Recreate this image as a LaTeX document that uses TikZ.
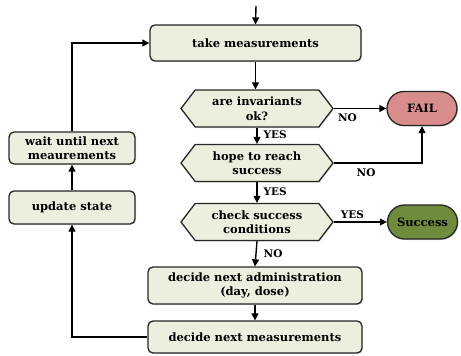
\documentclass[tikz,border=0pt]{standalone}
\usepackage{fontspec}
\setmainfont{DejaVu Serif}
\usetikzlibrary{shapes.symbols,shapes.misc,arrows.meta,shadows}
\definecolor{boxfill}{RGB}{236,238,222}
\definecolor{failfill}{RGB}{216,140,140}
\definecolor{okfill}{RGB}{110,140,60}
\begin{document}
\begin{tikzpicture}[x=1pt,y=-1pt,
  base/.style={draw=black!85, line width=1.3pt, align=center, inner sep=2pt,
    font=\bfseries\fontsize{11.5}{14.5}\selectfont,
    drop shadow={opacity=0.25, shadow xshift=1pt, shadow yshift=-1pt}},
  stepbox/.style={base, rectangle, rounded corners=5pt, fill=boxfill},
  test/.style={base, signal, signal to=west and east, signal pointer angle=105,
    fill=boxfill, minimum width=152pt, minimum height=37pt},
  term/.style={base, rounded rectangle, minimum width=74pt, minimum height=34pt},
  arr/.style={-{Triangle[length=7pt,width=7pt]}, line width=1.4pt},
  lbl/.style={font=\bfseries\fontsize{10.5}{12}\selectfont, inner sep=1pt}
]
\useasboundingbox (0,0) rectangle (461,356);

% main column
\node[stepbox, minimum width=211pt, minimum height=36pt] (take) at (255.5,43) {take measurements};
\node[test] (inv) at (257,108.5) {are invariants\\ok?};
\node[test] (hope) at (257,163) {hope to reach\\success};
\node[test] (check) at (257,222) {check success\\conditions};
\node[stepbox, minimum width=214pt, minimum height=37pt] (admin) at (255,285.5) {decide next administration\\(day, dose)};
\node[stepbox, minimum width=214pt, minimum height=32pt] (meas) at (255,337) {decide next measurements};

% outcomes
\node[term, fill=failfill] (fail) at (422,108.5) {FAIL};
\node[term, fill=okfill] (succ) at (422.5,222) {Success};

% feedback column
\node[stepbox, minimum width=126pt, minimum height=32pt] (wait) at (72,148) {wait until next\\meaurements};
\node[stepbox, minimum width=126pt, minimum height=33pt] (upd) at (72,207.5) {update state};

\coordinate (entry) at (256,6);

\draw[arr] (entry) -- (take.north);
\draw[arr] (take.south) -- (take.south |- inv.north);
\draw[arr] (inv.south) -- node[lbl, anchor=west, xshift=5pt, pos=0.45] {YES} (hope.north);
\draw[arr] (hope.south) -- node[lbl, anchor=west, xshift=5pt, pos=0.45] {YES} (check.north);
\draw[arr] (check.south) -- node[lbl, anchor=west, xshift=6pt, pos=0.5] {NO} (admin.north);
\draw[arr] (admin.south) -- (meas.north);

\draw[arr] (inv.east) -- node[lbl, anchor=north west, pos=0.05, yshift=-4pt] {NO} (fail.west);
\draw[arr] (hope.east) -| node[lbl, anchor=north west, pos=0.12, yshift=-4pt] {NO} (fail.south);
\draw[arr] (check.east) -- node[lbl, anchor=south west, pos=0.1, yshift=2pt] {YES} (succ.west);

\draw[arr] (meas.west) -| (upd.south);
\draw[arr] (upd.north) -- (wait.south);
\draw[arr] (wait.north) |- (take.west);
\end{tikzpicture}
\end{document}
